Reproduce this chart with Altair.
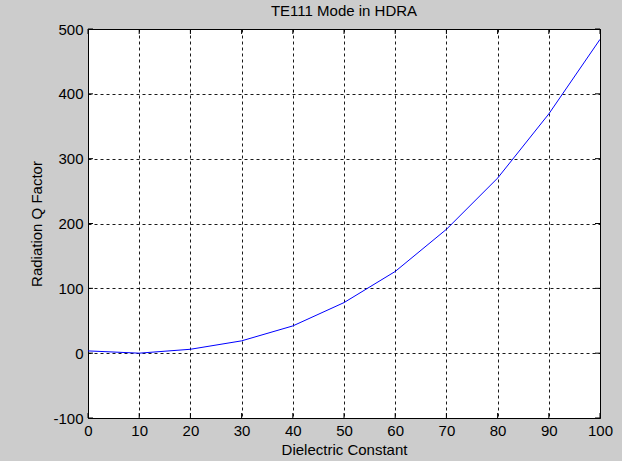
import altair as alt
import pandas as pd

# Data
dielectric = [0, 10, 20, 30, 40, 50, 60, 70, 80, 90, 100]
q_factor = [3.5, 0, 6, 19, 42, 78, 126, 191, 270, 369, 484]

x_ticks = [0, 10, 20, 30, 40, 50, 60, 70, 80, 90, 100]
y_ticks = [-100, 0, 100, 200, 300, 400, 500]

df = pd.DataFrame({"x": dielectric, "y": q_factor})
dfx = pd.DataFrame({"x": x_ticks})
dfy = pd.DataFrame({"y": y_ticks})

W, H = 512, 389
FONT = "Liberation Sans"
FS = 15

xscale = alt.Scale(domain=[0, 100], nice=False, zero=False)
yscale = alt.Scale(domain=[-100, 500], nice=False, zero=False)

common = dict(grid=True, gridColor="#000000", gridDash=[3, 3], gridOpacity=0.9,
              ticks=False, domain=False, labelFontSize=FS, titleFontSize=FS,
              labelColor="#000", titleColor="#000", titleFontWeight="normal",
              labelFont=FONT, titleFont=FONT, labelFlush=False)

line = alt.Chart(df).mark_line(color="#0000ff", strokeWidth=1, clip=True).encode(
    x=alt.X("x:Q", scale=xscale,
            axis=alt.Axis(values=x_ticks, title="Dielectric Constant",
                          labelPadding=5, titlePadding=4, **common)),
    y=alt.Y("y:Q", scale=yscale,
            axis=alt.Axis(values=y_ticks, title="Radiation Q Factor",
                          labelExpr="replace(datum.label, '\u2212', '-')",
                          labelPadding=5, titlePadding=8, **common)),
)

tick_len = 5
bottom_ticks = alt.Chart(dfx).mark_rule(color="#000", strokeWidth=1).encode(
    x=alt.X("x:Q", scale=xscale), y=alt.value(H), y2=alt.value(H - tick_len))
top_ticks = alt.Chart(dfx).mark_rule(color="#000", strokeWidth=1).encode(
    x=alt.X("x:Q", scale=xscale), y=alt.value(0), y2=alt.value(tick_len))
left_ticks = alt.Chart(dfy).mark_rule(color="#000", strokeWidth=1).encode(
    y=alt.Y("y:Q", scale=yscale), x=alt.value(0), x2=alt.value(tick_len))
right_ticks = alt.Chart(dfy).mark_rule(color="#000", strokeWidth=1).encode(
    y=alt.Y("y:Q", scale=yscale), x=alt.value(W), x2=alt.value(W - tick_len))

chart = alt.layer(line, bottom_ticks, top_ticks, left_ticks, right_ticks).properties(
    width=W, height=H,
    title=alt.TitleParams("TE111 Mode in HDRA", fontSize=FS, font=FONT,
                          fontWeight="normal", color="#000", anchor="middle", offset=3),
    autosize=alt.AutoSizeParams(type="none"),
    padding={"left": 88, "top": 29, "right": 22, "bottom": 43},
).configure(background="#cccccc").configure_view(
    stroke="#000000", strokeWidth=1, fill="#ffffff"
)

chart.save("out.html", embed_options={"renderer": "svg", "actions": False})
